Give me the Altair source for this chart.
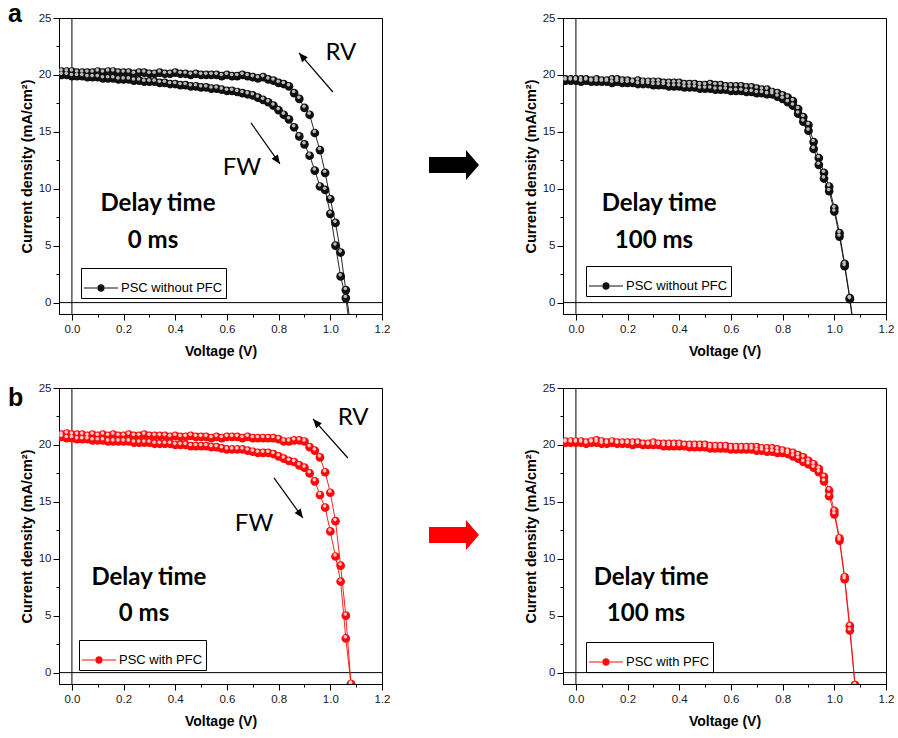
import altair as alt
import pandas as pd

# ---------------- data ----------------
VOLTAGE = [-0.04, -0.02, 0.00, 0.02, 0.04, 0.06, 0.08, 0.10, 0.12, 0.14,
           0.16, 0.18, 0.20, 0.22, 0.24, 0.26, 0.28, 0.30, 0.32, 0.34,
           0.36, 0.38, 0.40, 0.42, 0.44, 0.46, 0.48, 0.50, 0.52, 0.54,
           0.56, 0.58, 0.60, 0.62, 0.64, 0.66, 0.68, 0.70, 0.72, 0.74,
           0.76, 0.78, 0.80, 0.82, 0.84, 0.86, 0.88, 0.90, 0.92, 0.94,
           0.96, 0.98, 1.00, 1.02, 1.04, 1.06, 1.08]

# (a) PSC without PFC, delay 0 ms
A_RV = [20.3, 20.3, 20.3, 20.2, 20.2, 20.2, 20.2, 20.3, 20.2, 20.3,
        20.3, 20.2, 20.2, 20.2, 20.1, 20.2, 20.2, 20.1, 20.1, 20.2,
        20.1, 20.1, 20.2, 20.1, 20.1, 20.0, 20.1, 20.0, 20.0, 20.0,
        20.0, 19.9, 20.0, 19.9, 19.9, 20.0, 19.9, 19.8, 19.7, 19.8,
        19.6, 19.5, 19.3, 19.2, 19.0, 18.4, 17.9, 17.1, 16.5, 14.9,
        13.4, 11.4, 9.1, 7.0, 4.4, 1.1, -2.3]
A_FW = [20.0, 20.0, 19.9, 19.9, 19.9, 19.8, 19.8, 19.8, 19.7, 19.7,
        19.7, 19.6, 19.6, 19.6, 19.5, 19.5, 19.4, 19.4, 19.4, 19.3,
        19.3, 19.2, 19.2, 19.1, 19.1, 19.0, 19.0, 18.9, 18.9, 18.8,
        18.8, 18.7, 18.6, 18.6, 18.5, 18.4, 18.3, 18.2, 18.0, 17.8,
        17.6, 17.3, 16.9, 16.5, 16.1, 15.4, 14.6, 13.9, 12.9, 11.6,
        10.2, 9.9, 7.8, 5.0, 2.3, 0.4, -3.0]

# PSC without PFC, delay 100 ms
C_RV = [19.6, 19.6, 19.6, 19.6, 19.6, 19.5, 19.6, 19.5, 19.5, 19.6,
        19.6, 19.5, 19.5, 19.4, 19.5, 19.4, 19.4, 19.4, 19.4, 19.3,
        19.3, 19.3, 19.3, 19.2, 19.2, 19.2, 19.1, 19.1, 19.2, 19.1,
        19.1, 19.0, 19.0, 19.0, 19.0, 18.9, 18.9, 18.8, 18.7, 18.7,
        18.5, 18.4, 18.2, 18.0, 17.7, 17.0, 16.3, 15.6, 14.1, 12.7,
        11.4, 10.2, 8.3, 6.1, 3.4, 0.4, -3.0]
C_FW = [19.5, 19.5, 19.5, 19.4, 19.5, 19.4, 19.4, 19.4, 19.4, 19.3,
        19.4, 19.3, 19.3, 19.3, 19.2, 19.2, 19.2, 19.1, 19.1, 19.1,
        19.0, 19.0, 19.0, 18.9, 18.9, 18.9, 18.8, 18.8, 18.8, 18.7,
        18.7, 18.7, 18.6, 18.6, 18.6, 18.5, 18.5, 18.4, 18.4, 18.3,
        18.3, 18.1, 17.9, 17.6, 17.3, 16.6, 15.9, 15.1, 13.5, 12.1,
        10.9, 9.8, 8.0, 5.8, 3.2, 0.3, -3.2]

# (b) PSC with PFC, delay 0 ms
B_RV = [20.9, 21.0, 20.9, 20.9, 20.9, 20.8, 20.9, 20.8, 20.9, 20.8,
        20.9, 20.8, 20.8, 20.9, 20.8, 20.8, 20.9, 20.8, 20.8, 20.8,
        20.8, 20.7, 20.8, 20.7, 20.7, 20.8, 20.7, 20.7, 20.7, 20.6,
        20.7, 20.6, 20.7, 20.7, 20.7, 20.6, 20.7, 20.6, 20.6, 20.6,
        20.6, 20.6, 20.5, 20.3, 20.3, 20.4, 20.4, 20.3, 19.8, 19.5,
        18.9, 17.6, 15.8, 13.3, 9.4, 5.0, -1.0]
B_FW = [20.7, 20.6, 20.6, 20.5, 20.5, 20.5, 20.4, 20.4, 20.4, 20.3,
        20.3, 20.3, 20.3, 20.3, 20.2, 20.2, 20.2, 20.2, 20.1, 20.1,
        20.1, 20.1, 20.0, 20.0, 20.0, 19.9, 19.9, 19.9, 19.9, 19.8,
        19.8, 19.7, 19.6, 19.6, 19.6, 19.6, 19.5, 19.4, 19.3, 19.3,
        19.3, 19.2, 19.0, 18.8, 18.6, 18.5, 18.2, 18.0, 17.5, 16.8,
        15.6, 14.5, 12.4, 10.2, 8.0, 3.0, -1.0]

# PSC with PFC, delay 100 ms
D_RV = [20.3, 20.3, 20.3, 20.3, 20.2, 20.3, 20.4, 20.3, 20.2, 20.3,
        20.2, 20.2, 20.2, 20.2, 20.2, 20.1, 20.1, 20.2, 20.1, 20.1,
        20.1, 20.1, 20.1, 20.0, 20.0, 20.0, 20.0, 20.0, 19.9, 19.9,
        19.9, 19.9, 19.8, 19.8, 19.8, 19.8, 19.8, 19.8, 19.7, 19.7,
        19.7, 19.6, 19.5, 19.4, 19.3, 19.1, 18.9, 18.6, 18.3, 17.9,
        17.2, 16.0, 14.2, 11.8, 8.4, 4.1, -1.1]
D_FW = [20.2, 20.2, 20.2, 20.2, 20.1, 20.2, 20.2, 20.1, 20.1, 20.2,
        20.1, 20.1, 20.1, 20.0, 20.1, 20.0, 20.0, 20.0, 20.0, 19.9,
        19.9, 19.9, 19.9, 19.9, 19.8, 19.8, 19.8, 19.8, 19.7, 19.7,
        19.7, 19.7, 19.6, 19.6, 19.6, 19.6, 19.6, 19.5, 19.5, 19.4,
        19.4, 19.3, 19.3, 19.2, 19.0, 18.8, 18.5, 18.3, 18.0, 17.6,
        16.8, 15.5, 13.9, 11.6, 8.2, 3.7, -1.1]

X_TICKS = [0.0, 0.1, 0.2, 0.3, 0.4, 0.5, 0.6, 0.7, 0.8, 0.9, 1.0, 1.1, 1.2]
Y_TICKS = [0, 2.5, 5, 7.5, 10, 12.5, 15, 17.5, 20, 22.5, 25]

LABEL_WITHOUT = "PSC without PFC"
LABEL_WITH = "PSC with PFC"

# annotations: (V, J, text)
A_BOLD = [(0.333, 8.66, "Delay time"), (0.314, 5.41, "0 ms")]
A_THIN = [(1.041, 21.93, "RV"), (0.658, 11.83, "FW")]
A_ARROWS = [(1.010, 18.50, 0.879, 21.93, 319), (0.693, 15.78, 0.805, 12.18, 145)]
C_BOLD = [(0.322, 8.66, "Delay time"), (0.302, 5.41, "100 ms")]
B_BOLD = [(0.298, 8.31, "Delay time"), (0.279, 5.15, "0 ms")]
B_THIN = [(1.088, 22.37, "RV"), (0.705, 13.05, "FW")]
B_ARROWS = [(1.068, 18.85, 0.933, 22.28, 318), (0.782, 17.10, 0.894, 13.58, 144)]
D_BOLD = [(0.291, 8.31, "Delay time"), (0.271, 5.15, "100 ms")]

# ---------------- styling ----------------
FONT = "Liberation Sans"
TFONT = "Lato"
W, H = 323, 296
BLACK, BLACK_HL = "#101010", "#c4c4c4"
RED, RED_HL = "#ff0a0a", "#ffd2d2"

LEGEND_SYMBOL = ("M-1,-0.035 L-0.2,-0.035 L-0.2,0.035 L-1,0.035 Z "
                 "M0.2,-0.035 L1,-0.035 L1,0.035 L0.2,0.035 Z "
                 "M-0.22,0 A0.22,0.22 0 1,0 0.22,0 A0.22,0.22 0 1,0 -0.22,0 Z")
HEAD = "M0,0 L0.42,1 L-0.42,1 Z"
BIG_ARROW = "M-1,-0.32 L0.48,-0.32 L0.48,-0.6 L1,0 L0.48,0.6 L0.48,0.32 L-1,0.32 Z"

x_axis = alt.Axis(
    title="Voltage (V)", values=X_TICKS,
    labelExpr="abs(round(datum.value*10)) % 2 == 0 ? format(datum.value, '.1f') : ''",
    tickSize={"condition": {"test": "abs(round(datum.value*10)) % 2 == 1", "value": 3}, "value": 6},
)
y_axis = alt.Axis(
    title="Current density (mA/cm²)", values=Y_TICKS,
    labelExpr="datum.value % 5 == 0 ? format(datum.value, 'd') : ''",
    tickSize={"condition": {"test": "datum.value % 5 != 0", "value": 3}, "value": 6},
)
X_ENC = alt.X("V:Q", scale=alt.Scale(domain=[-0.05, 1.2], nice=False, zero=False), axis=x_axis)
Y_ENC = alt.Y("J:Q", scale=alt.Scale(domain=[-1, 25], nice=False, zero=False), axis=y_axis)


def panel(rv, fw, base, hl, label, lx, ly, bold_txt, thin_txt=None, arrows=None, tag=None):
    n = len(VOLTAGE)
    df = pd.DataFrame({
        "V": VOLTAGE + VOLTAGE,
        "J": rv + fw,
        "sweep": ["RV"] * n + ["FW"] * n,
        "series": [label] * (2 * n),
    })
    layers = []
    layers.append(alt.Chart(pd.DataFrame({"V": [0.0]})).mark_rule(color="black", strokeWidth=1).encode(x=X_ENC))
    layers.append(alt.Chart(pd.DataFrame({"J": [0.0]})).mark_rule(color="black", strokeWidth=1).encode(y=Y_ENC))
    layers.append(alt.Chart(df).mark_line(color=base, strokeWidth=0.9, clip=True).encode(
        x=X_ENC, y=Y_ENC, detail="sweep:N"))
    layers.append(alt.Chart(df).mark_circle(size=76, opacity=1, clip=True).encode(
        x=X_ENC, y=Y_ENC,
        color=alt.Color("series:N", scale=alt.Scale(domain=[label], range=[base]),
                        legend=alt.Legend(orient="none", legendX=lx, legendY=ly, title=None,
                                          strokeColor="black", fillColor="white", padding=3,
                                          symbolType=LEGEND_SYMBOL, symbolSize=1156,
                                          symbolStrokeWidth=0, symbolOpacity=1,
                                          labelFont=FONT, labelFontSize=13, labelColor="black",
                                          labelOffset=3))))
    layers.append(alt.Chart(df).mark_circle(size=13, opacity=0.95, color=hl, xOffset=-0.5, yOffset=-1.6,
                                            clip=True).encode(x=X_ENC, y=Y_ENC))
    bdf = pd.DataFrame(bold_txt, columns=["V", "J", "txt"])
    layers.append(alt.Chart(bdf).mark_text(font=TFONT, fontSize=24, fontWeight="bold", color="black",
                                           align="center", baseline="middle").encode(
        x=X_ENC, y=Y_ENC, text="txt:N"))
    if thin_txt:
        tdf = pd.DataFrame(thin_txt, columns=["V", "J", "txt"])
        layers.append(alt.Chart(tdf).mark_text(font=TFONT, fontSize=24, color="black",
                                               align="center", baseline="middle").encode(
            x=X_ENC, y=Y_ENC, text="txt:N"))
    if arrows:
        sdf = pd.DataFrame([(a[0], a[1], a[2], a[3]) for a in arrows], columns=["V", "J", "V2", "J2"])
        hdf = pd.DataFrame([(a[2], a[3], a[4]) for a in arrows], columns=["V", "J", "ang"])
        layers.append(alt.Chart(sdf).mark_rule(color="black", strokeWidth=1.2).encode(
            x=X_ENC, y=Y_ENC, x2="V2:Q", y2="J2:Q"))
        layers.append(alt.Chart(hdf).mark_point(shape=HEAD, size=324, filled=True, color="black",
                                                opacity=1, strokeWidth=0).encode(
            x=X_ENC, y=Y_ENC, angle=alt.Angle("ang:Q", scale=None)))
    if tag:
        t, ty = tag
        layers.append(alt.Chart(pd.DataFrame({"k": [0]})).mark_text(
            text=t, font=FONT, fontSize=25, fontWeight="bold", color="black",
            align="left", baseline="alphabetic").encode(x=alt.value(-51), y=alt.value(ty)))
    return alt.layer(*layers).properties(width=W, height=H)


def big_arrow(col):
    return alt.Chart(pd.DataFrame({"k": [0]})).mark_point(
        shape=BIG_ARROW, size=2500, filled=True, color=col, opacity=1, strokeWidth=0
    ).encode(x=alt.value(72), y=alt.value(147)).properties(
        width=181, height=H, view=alt.ViewBackground(stroke=None))


pA = panel(A_RV, A_FW, BLACK, BLACK_HL, LABEL_WITHOUT, 22, 250, A_BOLD, A_THIN, A_ARROWS, ("a", 4))
pC = panel(C_RV, C_FW, BLACK, BLACK_HL, LABEL_WITHOUT, 23, 248, C_BOLD)
pB = panel(B_RV, B_FW, RED, RED_HL, LABEL_WITH, 20, 252, B_BOLD, B_THIN, B_ARROWS, ("b", 18))
pD = panel(D_RV, D_FW, RED, RED_HL, LABEL_WITH, 23, 254, D_BOLD)

chart = alt.concat(
    pA, big_arrow("black"), pC,
    pB, big_arrow("#ff0000"), pD,
    columns=3, spacing={"row": 74, "column": 0}, bounds="flush",
).resolve_scale(color="independent").properties(
    padding={"left": 7, "top": 1, "right": 2, "bottom": 2}
).configure_view(stroke="black", strokeWidth=1).configure_axis(
    labelFont=FONT, labelFontSize=11.5, labelColor="#1a1a1a",
    titleFont=FONT, titleFontWeight="bold", titleColor="black",
    domainColor="black", tickColor="black", domainWidth=1, tickWidth=1,
    grid=False, labelFlush=False, labelOverlap=False,
).configure_axisX(labelPadding=3, titlePadding=10, titleFontSize=14).configure_axisY(
    labelPadding=2, titlePadding=4, titleFontSize=14.5
)

chart.save("out.html", embed_options={"renderer": "svg", "actions": False})
